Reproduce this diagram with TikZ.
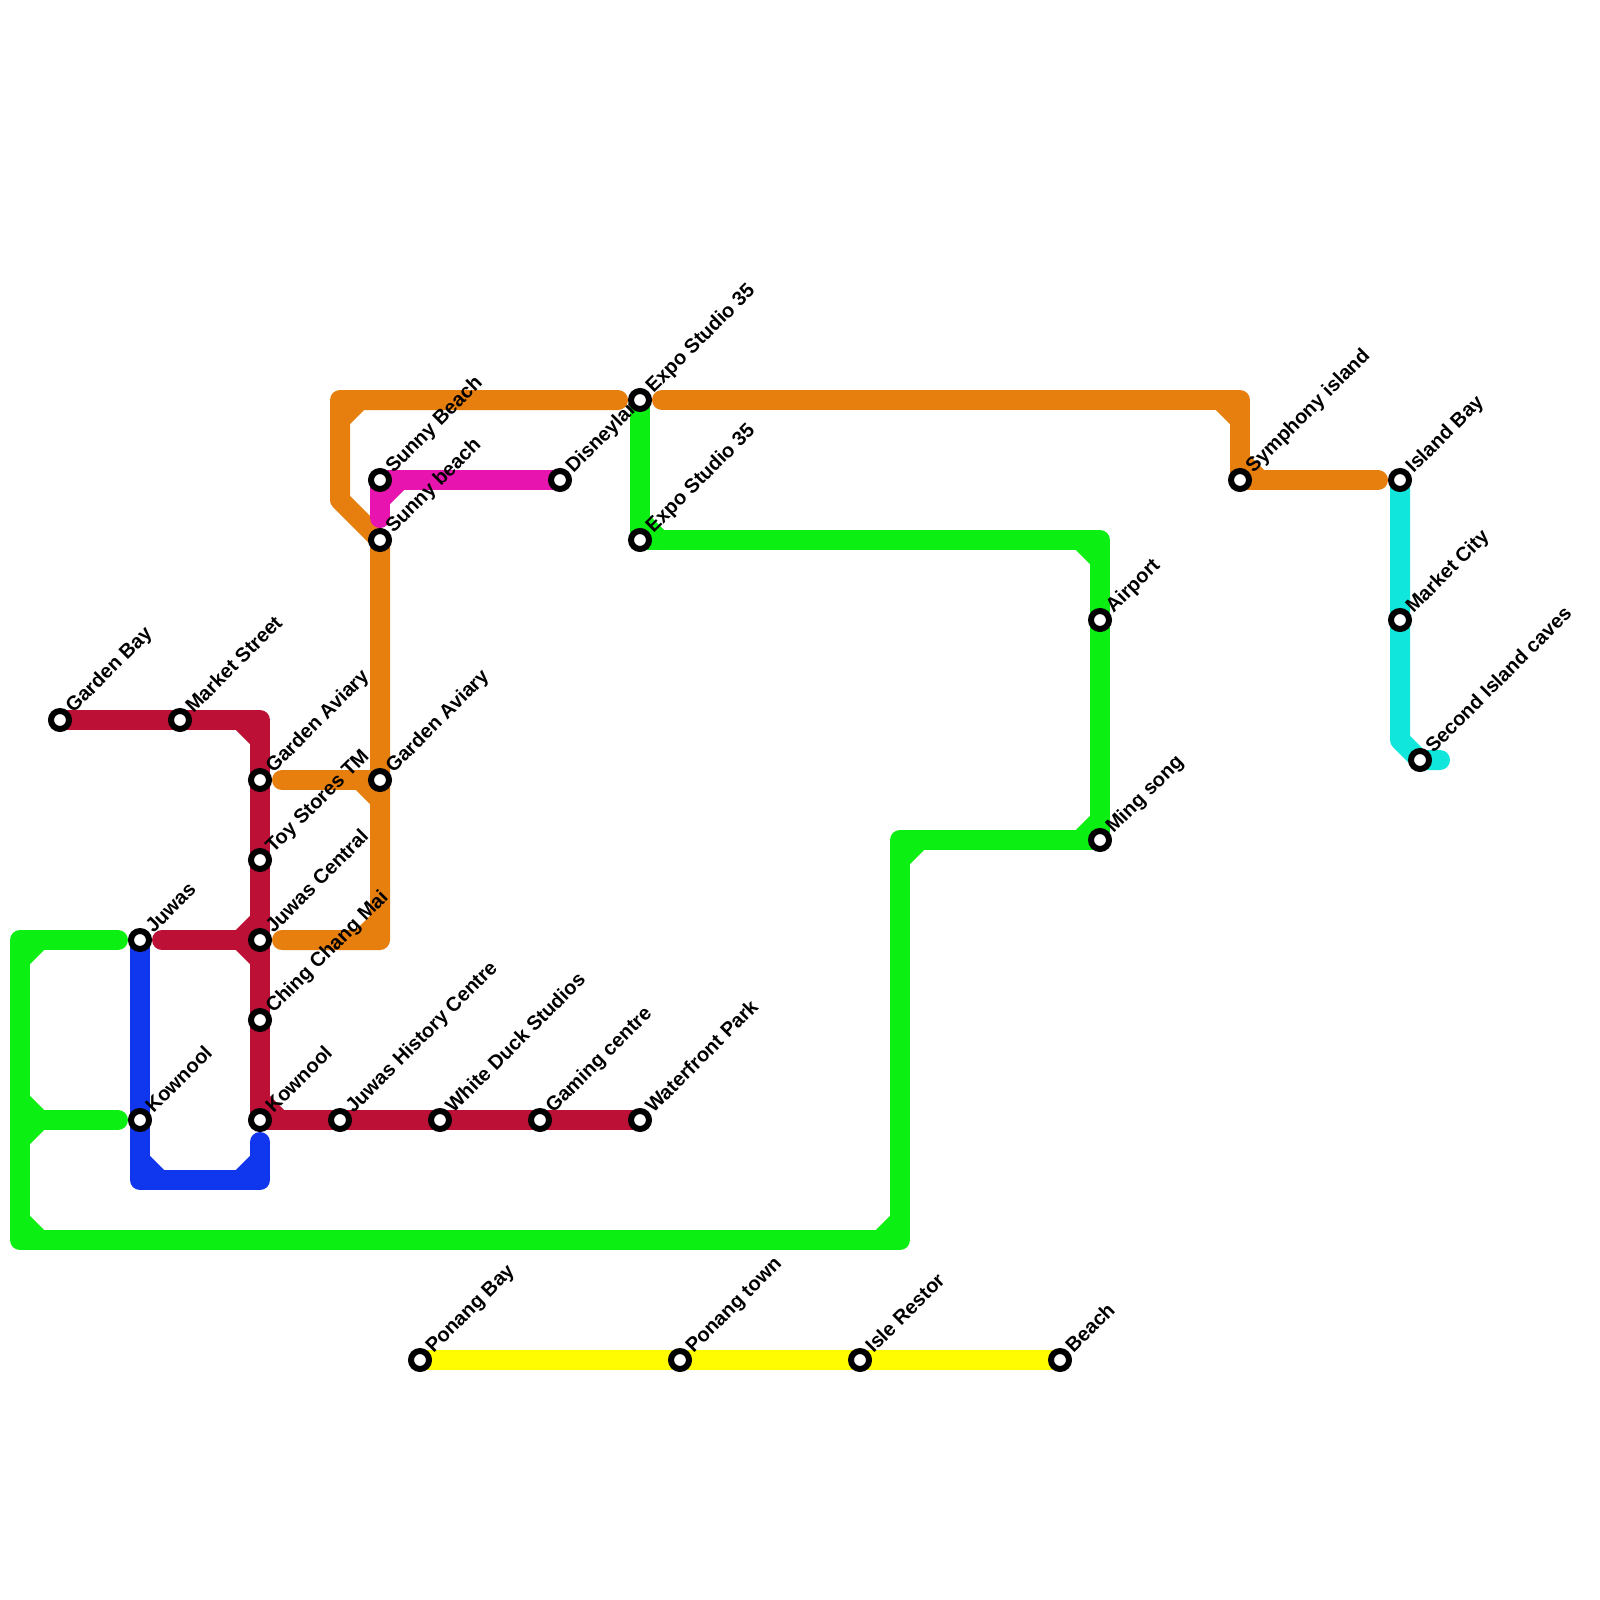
\documentclass[tikz,border=0pt]{standalone}
\usepackage{fontspec}
\setmainfont{Liberation Sans}
\usetikzlibrary{backgrounds}
\definecolor{mgreen}{HTML}{0BF012}
\definecolor{mcrimson}{HTML}{BC1037}
\definecolor{mblue}{HTML}{1036EE}
\definecolor{morange}{HTML}{E67F0D}
\definecolor{mpink}{HTML}{E814B0}
\definecolor{mteal}{HTML}{10E6DC}
\definecolor{myellow}{HTML}{FFFB00}
\begin{document}
\begin{tikzpicture}[
    x=20pt, y=-20pt,
    station/.style={circle, draw=black, fill=white, line width=6pt, minimum size=18pt, inner sep=0pt, outer sep=0pt},
    stationlabel/.style={rotate=45, anchor=base west, inner sep=0pt, font=\fontsize{20pt}{20pt}\selectfont\bfseries},
    tline/.style={line width=20pt, line cap=round, line join=round},
    cut/.style={shorten <=13pt},
    cutend/.style={shorten >=13pt},
    greenline/.style={tline, draw=mgreen},
    crimsonline/.style={tline, draw=mcrimson},
    blueline/.style={tline, draw=mblue},
    orangeline/.style={tline, draw=morange},
    pinkline/.style={tline, draw=mpink},
    tealline/.style={tline, draw=mteal},
    yellowline/.style={tline, draw=myellow}
  ]
  \useasboundingbox (0,0) rectangle (80,80);
  \foreach \name/\px/\py/\txt in {
      gardenbay/3/36/Garden Bay, marketst/9/36/Market Street,
      aviaryw/13/39/Garden Aviary, toystores/13/43/Toy Stores TM,
      juwascentral/13/47/Juwas Central, chingchang/13/51/Ching Chang Mai,
      kownoole/13/56/Kownool, juwashistory/17/56/Juwas History Centre,
      whiteduck/22/56/White Duck Studios, gaming/27/56/Gaming centre,
      waterfront/32/56/Waterfront Park, juwas/7/47/Juwas, kownoolw/7/56/Kownool,
      sunnyn/19/24/Sunny Beach, sunnys/19/27/Sunny beach, disney/28/24/Disneyland,
      aviarye/19/39/Garden Aviary, exponorth/32/20/Expo Studio 35,
      exposouth/32/27/Expo Studio 35, airport/55/31/Airport, mingsong/55/42/Ming song,
      symphony/62/24/Symphony island, islandbay/70/24/Island Bay,
      marketcity/70/31/Market City, secondisland/71/38/Second Island caves,
      ponangbay/21/68/Ponang Bay, ponangtown/34/68/Ponang town,
      islerestor/43/68/Isle Restor, beach/53/68/Beach} {
    \node[station] (\name) at (\px,\py) {};
    \node[stationlabel] (\name-label) at ([xshift=13.5pt,yshift=6pt]\name.center) {\txt};
  }
  \coordinate (gnw) at (1,47);
  \coordinate (gmid) at (1,56);
  \coordinate (gsw) at (1,62);
  \coordinate (gse) at (45,62);
  \coordinate (gbend) at (45,42);
  \coordinate (gne) at (55,27);
  \coordinate (crnw) at (13,36);
  \coordinate (blsw) at (7,59);
  \coordinate (blse) at (13,59);
  \coordinate (ornw) at (17,20);
  \coordinate (orsw) at (17,25);
  \coordinate (orse) at (19,47);
  \coordinate (orne) at (62,20);
  \coordinate (pinkbend) at (19,24);
  \coordinate (tealbend) at (70,37);
  \coordinate (tealend) at (72,38);
  \begin{scope}[on background layer]
    % orange
    \draw[orangeline, cut, cutend] (exponorth) -- (ornw) -- (orsw) -- (sunnys.center) -- (orse) -- (juwascentral);
    \draw[orangeline, cut] (aviaryw) -- (aviarye.center);
    \draw[orangeline, cut, cutend] (exponorth) -- (orne) -- (symphony.center) -- (islandbay);
    \draw[orangeline] (ornw) +(0,1) -- +(1,0);
    \draw[orangeline] (orse) +(0,-1) -- +(-1,0);
    \draw[orangeline] (aviarye) +(-1,0) -- +(0,1);
    \draw[orangeline] (orne) +(-1,0) -- +(0,1);
    \draw[orangeline] (symphony) +(0,-1) -- +(1,0);
    % pink
    \draw[pinkline, cutend] (disney.center) -- (pinkbend) -- (sunnys);
    \draw[pinkline] (pinkbend) +(0,1) -- +(1,0);
    % crimson
    \draw[crimsonline] (gardenbay.center) -- (crnw) -- (kownoole.center) -- (waterfront.center);
    \draw[crimsonline, cut] (juwas) -- (juwascentral.center);
    \draw[crimsonline] (crnw) +(-1,0) -- +(0,1);
    \draw[crimsonline] (juwascentral) +(-1,0) -- +(0,-1);
    \draw[crimsonline] (juwascentral) +(-1,0) -- +(0,1);
    \draw[crimsonline] (kownoole) +(0,-1) -- +(1,0);
    % blue
    \draw[blueline, cutend] (juwas.center) -- (blsw) -- (blse) -- (kownoole);
    \draw[blueline] (blsw) +(0,-1) -- +(1,0);
    \draw[blueline] (blse) +(-1,0) -- +(0,-1);
    % green
    \draw[greenline, cutend] (mingsong.center) -- (gbend) -- (gse) -- (gsw) -- (gnw) -- (juwas);
    \draw[greenline, cutend] (gmid) -- (kownoolw);
    \draw[greenline] (mingsong.center) -- (gne) -- (exposouth.center) -- (exponorth.center);
    \draw[greenline] (gnw) +(0,1) -- +(1,0);
    \draw[greenline] (gmid) +(0,-1) -- +(1,0);
    \draw[greenline] (gmid) +(0,1) -- +(1,0);
    \draw[greenline] (gsw) +(0,-1) -- +(1,0);
    \draw[greenline] (gse) +(-1,0) -- +(0,-1);
    \draw[greenline] (gbend) +(0,1) -- +(1,0);
    \draw[greenline] (mingsong) +(-1,0) -- +(0,-1);
    \draw[greenline] (gne) +(-1,0) -- +(0,1);
    \draw[greenline] (exposouth) +(0,-1) -- +(1,0);
    % teal
    \draw[tealline] (islandbay.center) -- (tealbend) -- (secondisland.center) -- (tealend);
    % yellow
    \draw[yellowline] (ponangbay.center) -- (beach.center);
  \end{scope}
\end{tikzpicture}
\end{document}
